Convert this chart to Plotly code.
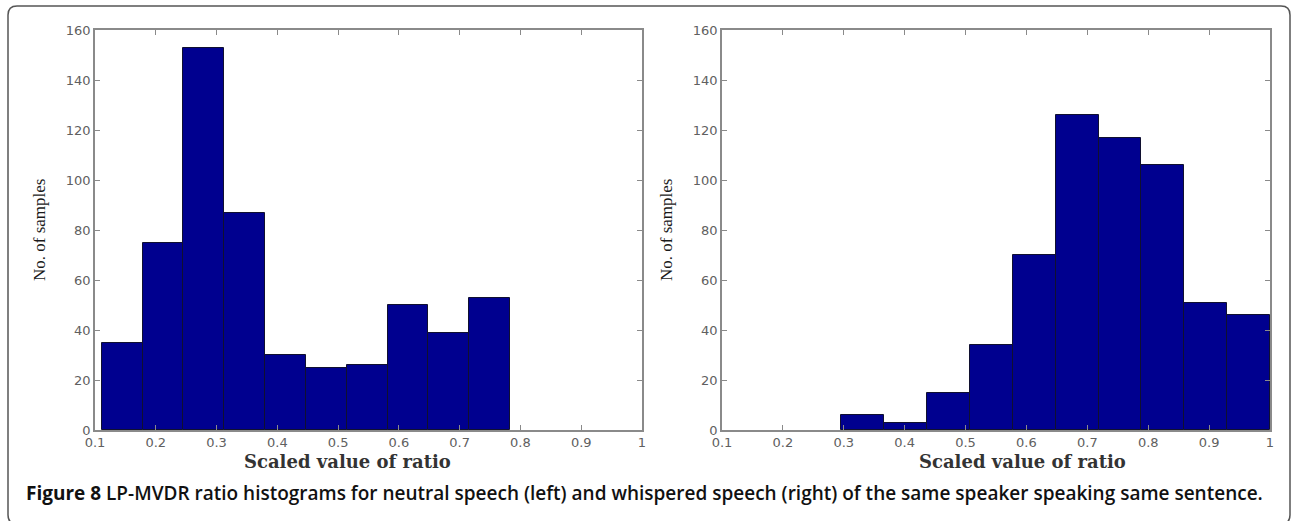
import numpy as np
import plotly.graph_objects as go

# Histogram counts per bin (10 bins each)
neutral_counts = [35, 75, 153, 87, 30, 25, 26, 50, 39, 53]
neutral_range = [0.111, 0.783]   # lowest / highest bin edge

whisper_counts = [6, 3, 15, 34, 70, 126, 117, 106, 51, 46]
whisper_range = [0.296, 1.0]

x_ticks = [0.1, 0.2, 0.3, 0.4, 0.5, 0.6, 0.7, 0.8, 0.9, 1.0]
x_tick_labels = ["0.1", "0.2", "0.3", "0.4", "0.5", "0.6", "0.7", "0.8", "0.9", "1"]
y_ticks = [0, 20, 40, 60, 80, 100, 120, 140, 160]

x_title = "Scaled value of ratio"
y_title = "No. of samples"
caption_bold = "Figure 8"
caption_rest = ("LP-MVDR ratio histograms for neutral speech (left) and whispered speech (right) "
                "of the same speaker speaking same sentence.")

W, H = 1292, 521
BAR_COLOR = "#00008F"
AXIS_COLOR = "#8a8a8a"
TICK_FONT = dict(family="DejaVu Sans", size=13, color="#606060")


def px_x(p):
    return p / W


def px_y(p):
    return 1 - p / H


def bins(counts, rng):
    edges = np.linspace(rng[0], rng[1], len(counts) + 1)
    centers = (edges[:-1] + edges[1:]) / 2
    width = edges[1] - edges[0]
    return centers, width


fig = go.Figure()

for counts, rng, xa, ya in [(neutral_counts, neutral_range, "x", "y"),
                            (whisper_counts, whisper_range, "x2", "y2")]:
    centers, width = bins(counts, rng)
    fig.add_trace(go.Bar(
        x=centers, y=counts, width=width, xaxis=xa, yaxis=ya,
        marker=dict(color=BAR_COLOR, line=dict(color="#101030", width=1)),
        showlegend=False, hoverinfo="x+y",
    ))

y_domain = [px_y(430), px_y(30)]
common_x = dict(range=[0.1, 1.0], tickvals=x_ticks, ticktext=x_tick_labels,
                ticks="inside", ticklen=5, tickcolor=AXIS_COLOR, tickwidth=1,
                showline=True, linecolor=AXIS_COLOR, linewidth=1.5, mirror="ticks",
                showgrid=False, zeroline=False, tickfont=TICK_FONT, automargin=False,
                fixedrange=True)
common_y = dict(range=[0, 160], tickvals=y_ticks,
                ticks="inside", ticklen=5, tickcolor=AXIS_COLOR, tickwidth=1,
                showline=True, linecolor=AXIS_COLOR, linewidth=1.5, mirror="ticks",
                showgrid=False, zeroline=False, tickfont=TICK_FONT, automargin=False,
                fixedrange=True, domain=y_domain)

fig.update_layout(
    width=W, height=H,
    margin=dict(l=0, r=0, t=0, b=0),
    paper_bgcolor="white", plot_bgcolor="white",
    bargap=0,
    xaxis=dict(common_x, domain=[px_x(95), px_x(642)], anchor="y"),
    yaxis=dict(common_y, anchor="x"),
    xaxis2=dict(common_x, domain=[px_x(722), px_x(1270)], anchor="y2"),
    yaxis2=dict(common_y, anchor="x2"),
)

annotations = []
# axis titles
for cx in (347, 1022):
    annotations.append(dict(
        x=px_x(cx), y=px_y(461), xref="paper", yref="paper", text=x_title,
        showarrow=False, xanchor="center", yanchor="middle",
        font=dict(family="DejaVu Serif", size=18, color="#333333", weight="bold"),
    ))
for cx in (39, 666):
    annotations.append(dict(
        x=px_x(cx), y=px_y(230), xref="paper", yref="paper", text=y_title,
        showarrow=False, xanchor="center", yanchor="middle", textangle=-90,
        font=dict(family="Liberation Serif", size=17, color="#1a1a1a"),
    ))
# caption
annotations.append(dict(
    x=px_x(24), y=px_y(493), xref="paper", yref="paper",
    text=f"<b>{caption_bold}</b> {caption_rest}",
    showarrow=False, xanchor="left", yanchor="middle",
    font=dict(family="Open Sans", size=19, color="#111111", weight=600),
))
fig.update_layout(annotations=annotations)

# rounded frame around the figure
l, t, r, b, rad = 8, 6, 1290, 524, 9
path = (f"M {px_x(l)},{px_y(b - rad)} L {px_x(l)},{px_y(t + rad)} "
        f"Q {px_x(l)},{px_y(t)} {px_x(l + rad)},{px_y(t)} "
        f"L {px_x(r - rad)},{px_y(t)} Q {px_x(r)},{px_y(t)} {px_x(r)},{px_y(t + rad)} "
        f"L {px_x(r)},{px_y(b - rad)} Q {px_x(r)},{px_y(b)} {px_x(r - rad)},{px_y(b)} "
        f"L {px_x(l + rad)},{px_y(b)} Q {px_x(l)},{px_y(b)} {px_x(l)},{px_y(b - rad)} Z")
fig.add_shape(type="path", path=path, xref="paper", yref="paper",
              line=dict(color="#555555", width=1.5), layer="below")

fig.write_html("out.html", config=dict(displayModeBar=False))
